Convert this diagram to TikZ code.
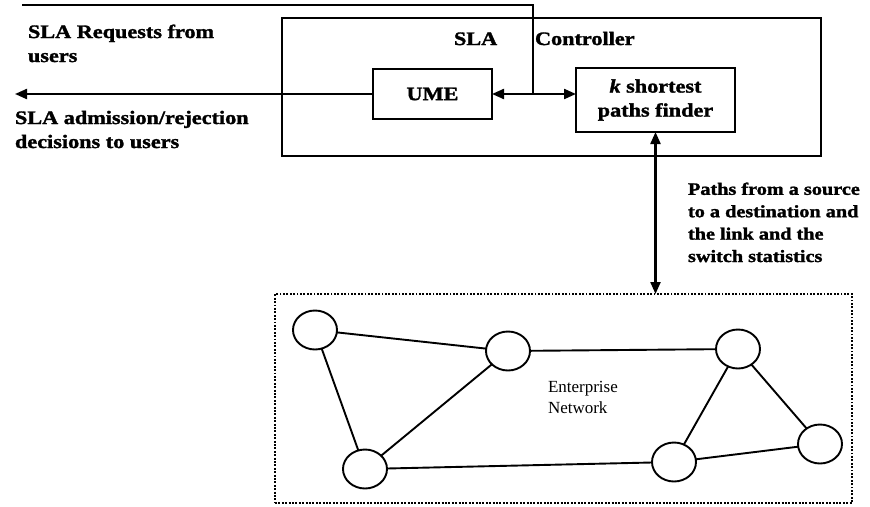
\documentclass[tikz,border=0pt]{standalone}
\usepackage{fontspec}
\setmainfont{Liberation Serif}
\newfontfamily\labfont[FakeStretch=1.17,FakeBold=1.6,UprightFont=* Bold,ItalicFont=* Bold Italic]{Liberation Serif}
\usetikzlibrary{arrows.meta,shapes.geometric}

\tikzset{
  every node/.style={inner sep=0pt, outer sep=0pt},
  boxline/.style={draw, line width=2.2pt},
  blabel/.style={font=\labfont\fontsize{19}{24}\selectfont, align=left},
  slabel/.style={font=\labfont\fontsize{17.3}{22.4}\selectfont, align=left},
  netlabel/.style={font=\fontsize{17}{21}\selectfont, align=left},
  conn/.style={line width=2.2pt},
  tip/.style={-{Triangle[length=12pt,width=10pt]}},
  tips/.style={{Triangle[length=12pt,width=10pt]}-{Triangle[length=12pt,width=10pt]}},
  netnode/.style={ellipse, draw, line width=1.9pt, minimum width=44pt, minimum height=39pt},
  link/.style={line width=1.9pt},
  dotborder/.style={draw, line width=2.7pt, line cap=butt, dash pattern=on 1.9pt off 1.5pt}
}

\begin{document}
\begin{tikzpicture}[x=1pt, y=-1pt]
\useasboundingbox (0,0) rectangle (870,506);

% controller frame and its two modules
\node[boxline, minimum width=539pt, minimum height=138pt] (ctrl) at (551.5,87) {};
\node[blabel, anchor=base west] (ttlsla) at (454,45) {SLA};
\node[blabel, anchor=base west] (ttlctrl) at (535,45) {Controller};
\node[boxline, blabel, align=center, minimum width=119pt, minimum height=50pt] (ume) at (432.5,94) {UME};
\node[boxline, blabel, align=center, minimum width=159pt, minimum height=64pt] (ksp) at (655.5,100)
  {\textit{k} shortest\\paths finder};

% user side labels (anchored at the baseline of their last line)
\node[blabel, anchor=base west] (req) at (28,62) {SLA Requests from\\users};
\node[blabel, anchor=base west] (dec) at (15,148) {SLA admission/rejection\\decisions to users};

% request line, response arrow and internal exchange
\coordinate (reqin) at (22,5);
\coordinate (jn) at (533,94);
\coordinate (userout) at (15,94);
\draw[conn] (reqin) -- (reqin -| jn) -- (jn);
\draw[conn, tip] (ume.west) -- (userout);
\draw[conn, tips] (ume.east) -- (ume.east -| ksp.west);

% enterprise network
\node[dotborder, minimum width=577pt, minimum height=209pt] (net) at (563.5,398.5) {};
\node[netnode] (n1) at (315,330) {};
\node[netnode] (n2) at (508,351) {};
\node[netnode] (n3) at (738,349) {};
\node[netnode] (n4) at (365,469) {};
\node[netnode] (n5) at (674,462) {};
\node[netnode] (n6) at (820,444) {};
\draw[link] (n1) -- (n2);
\draw[link] (n1) -- (n4);
\draw[link] (n2) -- (n4);
\draw[link] (n2) -- (n3);
\draw[link] (n4) -- (n5);
\draw[link] (n3) -- (n5);
\draw[link] (n3) -- (n6);
\draw[link] (n5) -- (n6);
\node[netlabel, anchor=base west] (netname) at (548,413) {Enterprise\\Network};

% statistics exchange between finder and network
\draw[conn, tips] (ksp.south) -- (ksp.south |- net.north);
\node[slabel, anchor=base west] (stats) at (688,262)
  {Paths from a source\\to a destination and\\the link and the\\switch statistics};
\end{tikzpicture}
\end{document}
